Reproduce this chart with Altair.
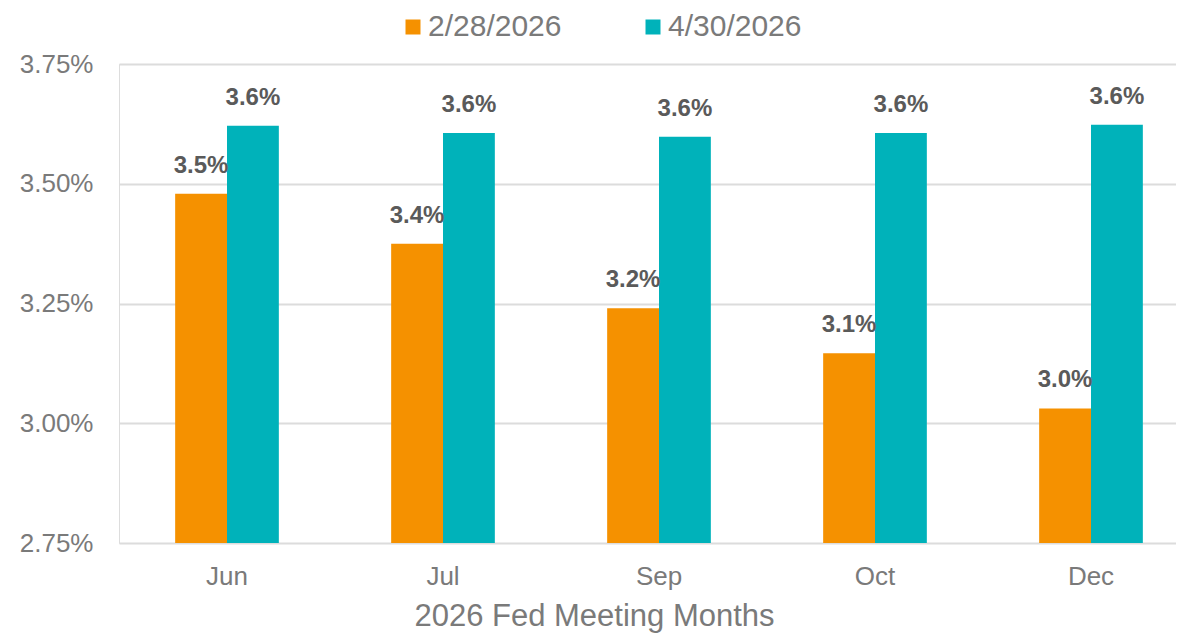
import altair as alt
import pandas as pd

months = ["Jun", "Jul", "Sep", "Oct", "Dec"]
series = ["2/28/2026", "4/30/2026"]
feb_values = [3.479, 3.375, 3.240, 3.146, 3.031]
apr_values = [3.621, 3.606, 3.598, 3.606, 3.623]
y_ticks = [2.75, 3.00, 3.25, 3.50, 3.75]
colors = ["#F59100", "#00B2BA"]

rows = []
for m, a, b in zip(months, feb_values, apr_values):
    rows.append({"month": m, "series": series[0], "value": a})
    rows.append({"month": m, "series": series[1], "value": b})
df = pd.DataFrame(rows)

FONT = "Liberation Sans"
GRAY = "#7a7a7a"

x = alt.X("month:N", sort=months,
          scale=alt.Scale(paddingInner=0.52, paddingOuter=0.26),
          axis=alt.Axis(title="2026 Fed Meeting Months", labelAngle=0, ticks=False,
                        domain=False, labelFontSize=26, labelColor=GRAY, labelFont=FONT,
                        labelPadding=20, titleFontSize=31, titleFont=FONT, titleColor=GRAY,
                        titleFontWeight="normal", titleX=475, titleY=82,
                        titleAlign="center", titleBaseline="alphabetic"))
y = alt.Y("value:Q",
          scale=alt.Scale(domain=[2.75, 3.75], zero=False, nice=False),
          axis=alt.Axis(title=None, values=y_ticks, ticks=False, domain=False,
                        labelExpr="format(datum.value, '.2f') + '%'",
                        labelFontSize=26, labelColor=GRAY, labelFont=FONT,
                        labelPadding=26, gridColor="#dcdcdc", gridWidth=2))
xo = alt.XOffset("series:N", sort=series)

bars = alt.Chart(df).mark_bar().encode(
    x=x, y=y, y2=alt.datum(2.75), xOffset=xo,
    color=alt.Color("series:N", sort=series,
                    scale=alt.Scale(domain=series, range=colors),
                    legend=alt.Legend(title=None, orient="none", legendX=279, legendY=-52,
                                      direction="horizontal", symbolType="square",
                                      symbolSize=225, symbolStrokeWidth=0,
                                      labelFontSize=30, labelFont=FONT, labelColor=GRAY,
                                      labelOffset=0, columnPadding=76)),
)

labels = alt.Chart(df).transform_calculate(
    lab="format(datum.value, '.1f') + '%'"
).mark_text(baseline="bottom", dy=-16, fontSize=24, fontWeight="bold",
            font=FONT, color="#5a5a5a").encode(
    x=x, y=y, xOffset=xo, text="lab:N"
)

chart = alt.layer(bars, labels).properties(
    width=1080, height=479,
    autosize=alt.AutoSizeParams(type="none"),
    padding={"left": 111, "top": 56, "right": -23, "bottom": 91},
).configure_view(stroke=None).configure(background="white")

chart.save("out.html", embed_options={"renderer": "svg", "actions": False})
